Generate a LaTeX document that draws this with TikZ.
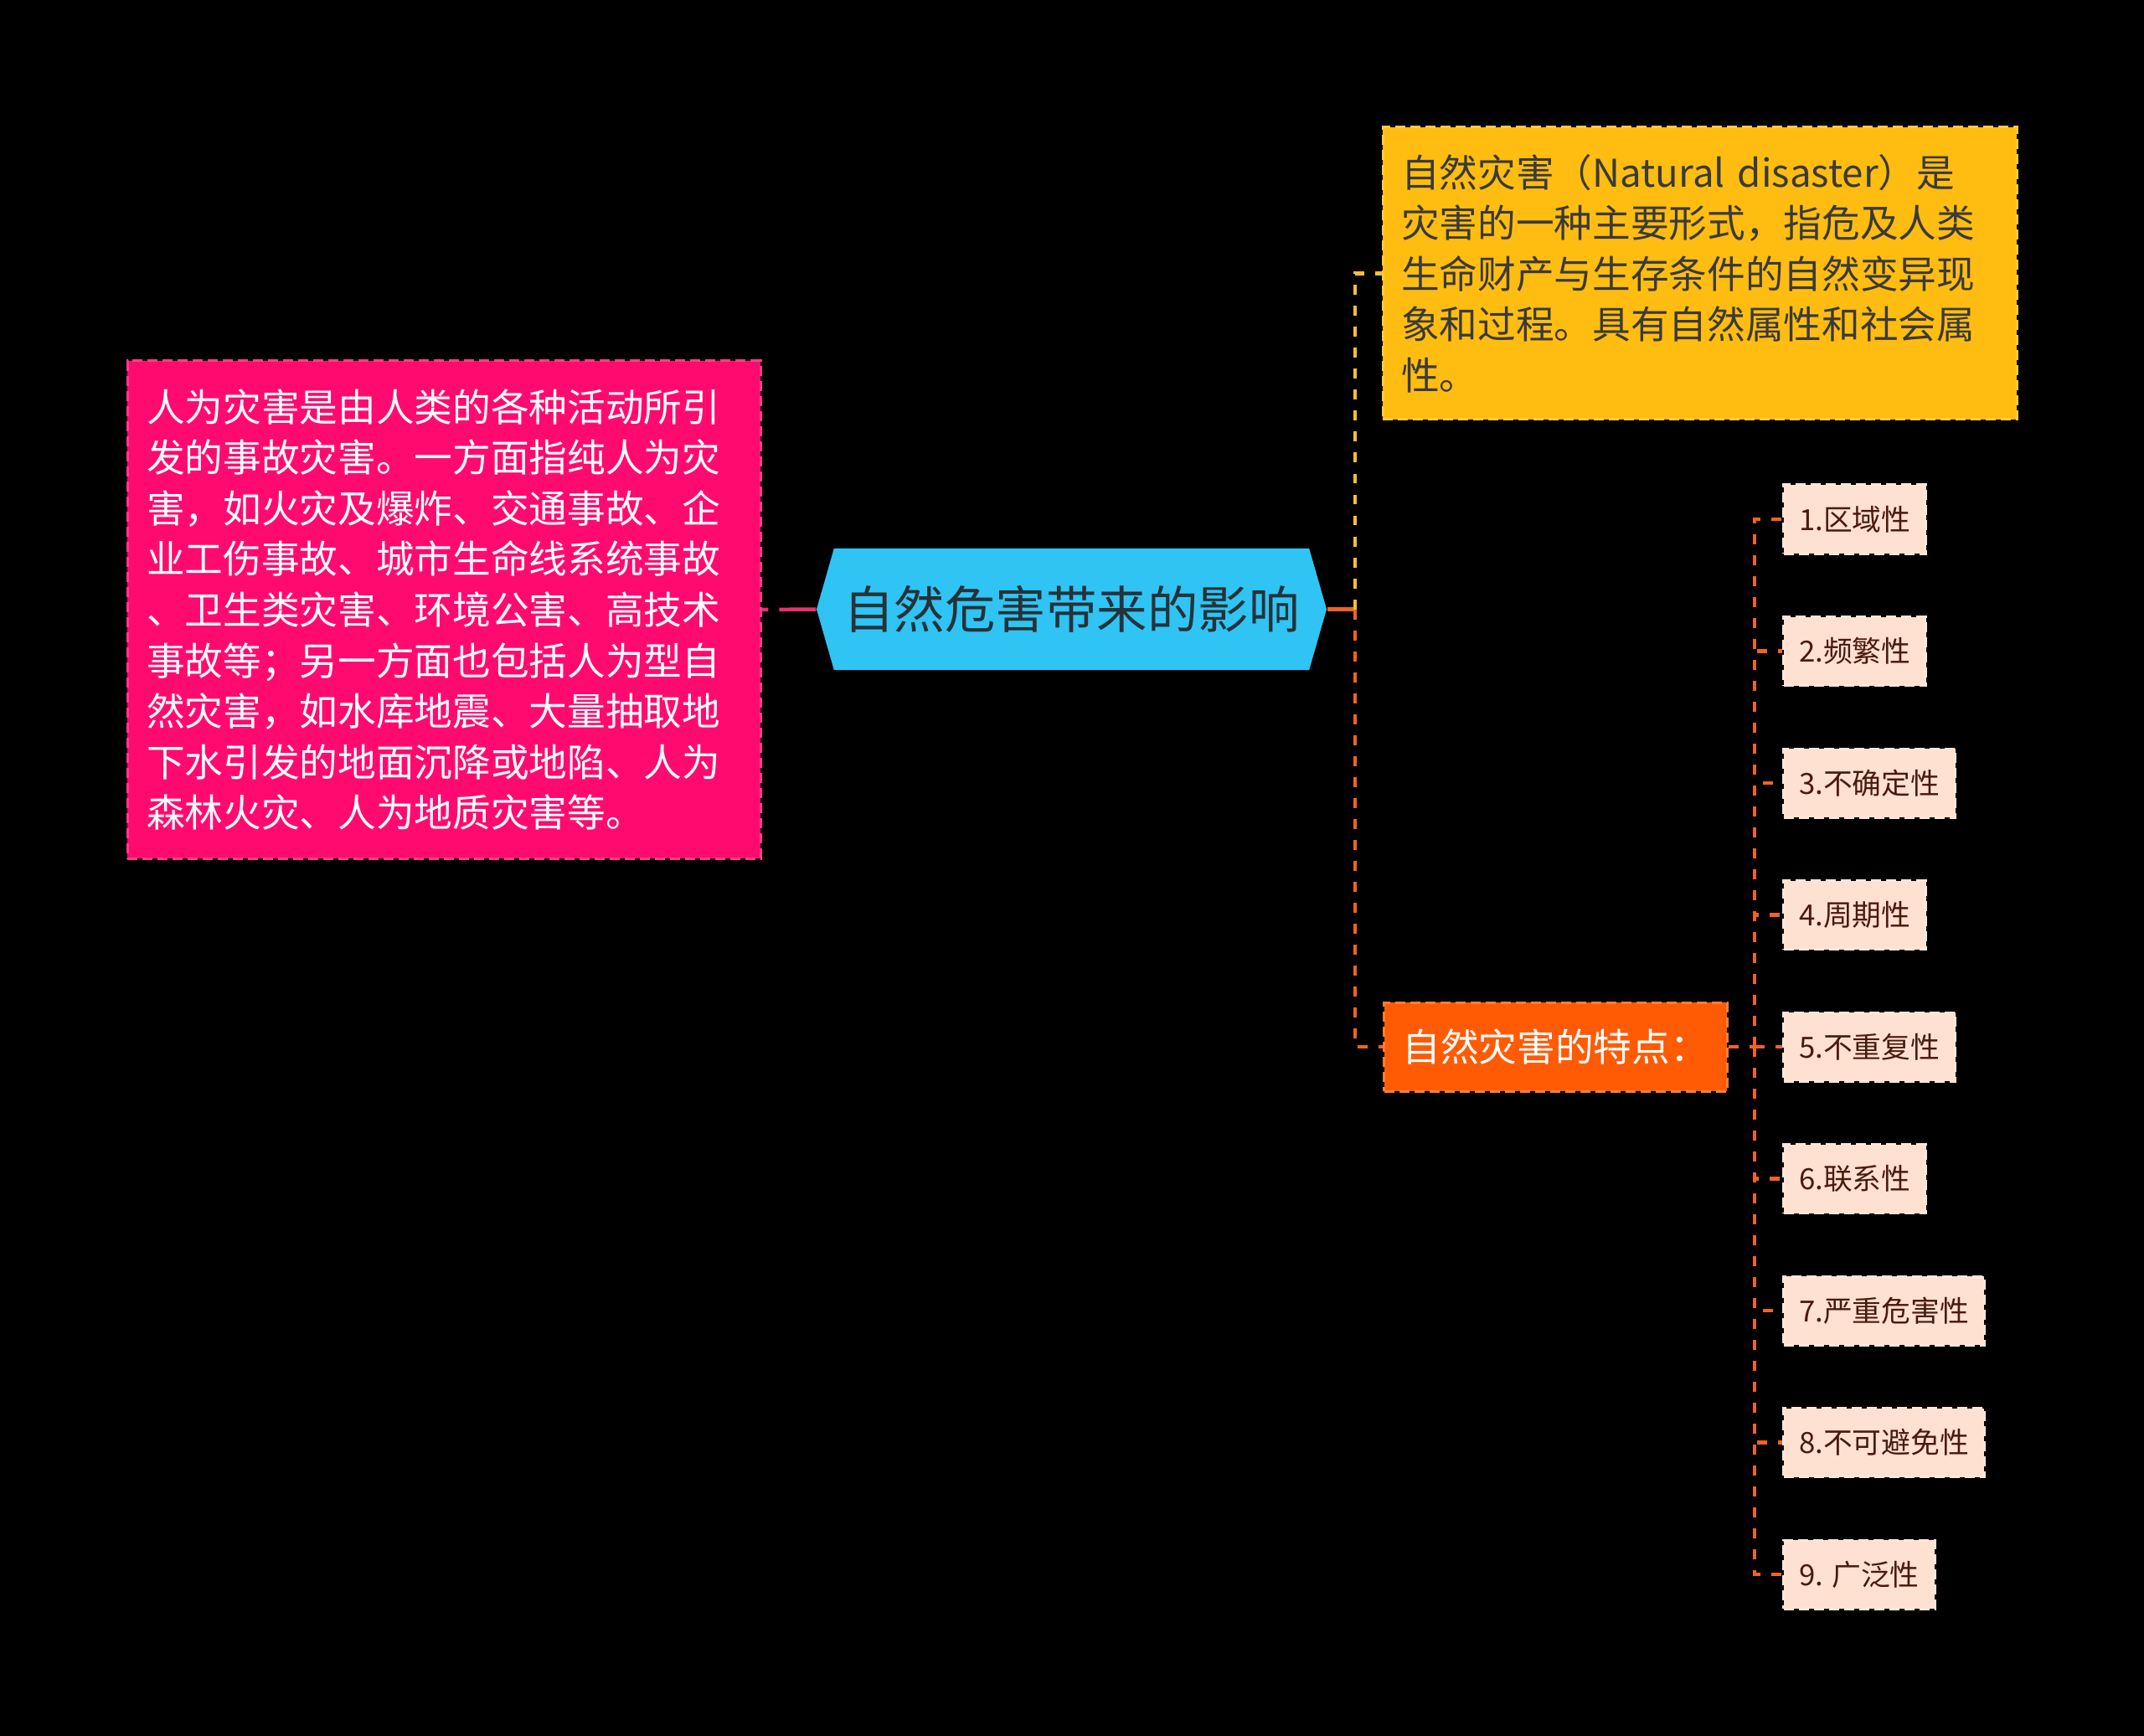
\documentclass[tikz,border=0pt]{standalone}
\usepackage{fontspec}
\setmainfont{Noto Sans CJK SC}
\usepackage{xcolor}
\usetikzlibrary{positioning,shapes.symbols}

\definecolor{rootblue}{HTML}{2FC4F3}
\definecolor{roottext}{HTML}{263238}
\definecolor{manpink}{HTML}{FF0B6F}
\definecolor{defyellow}{HTML}{FFBD12}
\definecolor{deftext}{HTML}{3A3A3A}
\definecolor{featorange}{HTML}{FF5B05}
\definecolor{itempeach}{HTML}{FFE1D2}
\definecolor{itemtext}{HTML}{4A1B0C}
\definecolor{linepink}{HTML}{E8306F}
\definecolor{lineyellow}{HTML}{FBC02D}
\definecolor{lineorange}{HTML}{F0641E}

\begin{document}
\begin{tikzpicture}[
    every node/.style={inner sep=0pt},
    bigbox/.style={draw, dashed, dash pattern=on 0.12cm off 0.06cm, line width=0.03cm, align=left},
    itembox/.style={bigbox, fill=itempeach, draw=itempeach!85!white, text=itemtext, anchor=west,
        inner xsep=0.185cm, minimum height=0.82cm, font=\fontsize{9.9pt}{12pt}\selectfont},
    conn/.style={line width=0.045cm, dash pattern=on 0.12cm off 0.13cm}
]
    \useasboundingbox[fill=black] (0,0) rectangle (25.6,-20.73);

    \node[signal, signal to=west and east, signal pointer angle=148, fill=rootblue,
        minimum width=6.09cm, minimum height=1.45cm, text=roottext,
        font=\fontsize{17.2pt}{20pt}\selectfont] (root) at (12.795,-7.275) {自然危害带来的影响};

    \node[bigbox, fill=manpink, draw=manpink!80!white, text=white, text width=7.1cm,
        inner xsep=0.23cm, minimum height=5.94cm, font=\fontsize{13pt}{17.24pt}\selectfont]
        (manmade) at (5.30,-7.28) {人为灾害是由人类的各种活动所引\\发的事故灾害。一方面指纯人为灾\\害，如火灾及爆炸、交通事故、企\\业工伤事故、城市生命线系统事故\\、卫生类灾害、环境公害、高技术\\事故等；另一方面也包括人为型自\\然灾害，如水库地震、大量抽取地\\下水引发的地面沉降或地陷、人为\\森林火灾、人为地质灾害等。};

    \node[bigbox, fill=defyellow, draw=defyellow!80!white, text=deftext, text width=7.13cm,
        inner xsep=0.22cm, minimum height=3.49cm, font=\fontsize{13pt}{17.24pt}\selectfont]
        (define) at (20.295,-3.265) {自然灾害（Natural disaster）是\\灾害的一种主要形式，指危及人类\\生命财产与生存条件的自然变异现\\象和过程。具有自然属性和社会属\\性。};

    \node[bigbox, fill=featorange, draw=featorange!80!white, text=white, anchor=west,
        inner xsep=0.22cm, minimum height=1.06cm, font=\fontsize{13pt}{17.24pt}\selectfont]
        (feature) at (16.51,-12.50) {自然灾害的特点：};

    \node[itembox] (f1) at (21.28,-6.20) {1.区域性};
    \node[itembox] (f2) at (21.28,-7.775) {2.频繁性};
    \node[itembox] (f3) at (21.28,-9.35) {3.不确定性};
    \node[itembox] (f4) at (21.28,-10.925) {4.周期性};
    \node[itembox] (f5) at (21.28,-12.50) {5.不重复性};
    \node[itembox] (f6) at (21.28,-14.075) {6.联系性};
    \node[itembox] (f7) at (21.28,-15.65) {7.严重危害性};
    \node[itembox] (f8) at (21.28,-17.225) {8.不可避免性};
    \node[itembox] (f9) at (21.28,-18.80) {9. 广泛性};

    \coordinate (jR) at (16.18,-7.275);
    \coordinate (jF) at (20.95,-12.50);

    \draw[conn, linepink, dash pattern=on 0.44cm off 0.13cm on 0.1cm off 0.13cm] (root.west) -- (manmade.east);
    \draw[conn, lineorange, solid] (root.east) -- (jR);
    \draw[conn, lineyellow] (jR) |- (define.west);
    \draw[conn, lineorange] (jR) |- (feature.west);
    \draw[conn, lineorange] (feature.east) -- (jF);
    \foreach \i in {1,...,9}
        \draw[conn, lineorange] (jF) |- (f\i.west);
\end{tikzpicture}
\end{document}
